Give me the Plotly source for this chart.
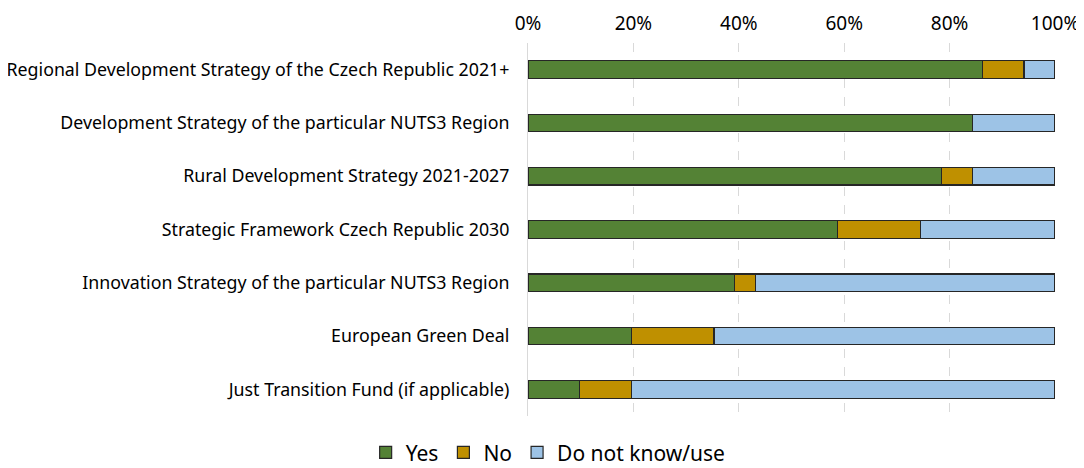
import plotly.graph_objects as go

# survey of 51 respondents, shares in %
strategies = [
    "Regional Development Strategy of the Czech Republic 2021+",
    "Development Strategy of the particular NUTS3 Region",
    "Rural Development Strategy 2021-2027",
    "Strategic Framework Czech Republic 2030",
    "Innovation Strategy of the particular NUTS3 Region",
    "European Green Deal",
    "Just Transition Fund (if applicable)",
]
yes_share = [86.3, 84.3, 78.4, 58.8, 39.2, 19.6, 9.8]
no_share = [7.8, 0.0, 5.9, 15.7, 3.9, 15.7, 9.8]
dont_know_share = [5.9, 15.7, 15.7, 25.5, 56.9, 64.7, 80.4]

series = [
    ("Yes", yes_share, "#548235"),
    ("No", no_share, "#BF9000"),
    ("Do not know/use", dont_know_share, "#9DC3E6"),
]

fig = go.Figure()
for name, values, color in series:
    fig.add_trace(go.Bar(
        y=strategies,
        x=values,
        name=name,
        orientation="h",
        width=0.33,
        marker=dict(color=color, line=dict(color="#262626", width=1.2)),
    ))

# the page body adds an 8px margin, so the figure is a bit smaller than the window
fig.update_layout(
    barmode="stack",
    width=1076,
    height=460,
    margin=dict(l=520, r=29, t=35, b=52),
    plot_bgcolor="white",
    paper_bgcolor="white",
    font=dict(family="Noto Sans", color="#000000", size=17.8),
    legend=dict(
        orientation="h",
        xref="container",
        yref="container",
        x=0.502,
        y=0.033,
        xanchor="center",
        yanchor="middle",
        font=dict(size=21),
        traceorder="normal",
    ),
    xaxis=dict(
        side="top",
        range=[0, 100],
        dtick=20,
        ticksuffix="%",
        tickfont=dict(size=19),
        ticklabelstandoff=8,
        showgrid=True,
        gridcolor="#d9d9d9",
        griddash="dash",
        gridwidth=1,
        zeroline=False,
        showline=False,
        automargin=False,
    ),
    yaxis=dict(
        categoryorder="array",
        categoryarray=strategies,
        autorange="reversed",
        showline=True,
        linecolor="#d9d9d9",
        linewidth=1,
        ticks="",
        ticklabelstandoff=14,
        automargin=False,
    ),
)

fig.write_html("out.html")
